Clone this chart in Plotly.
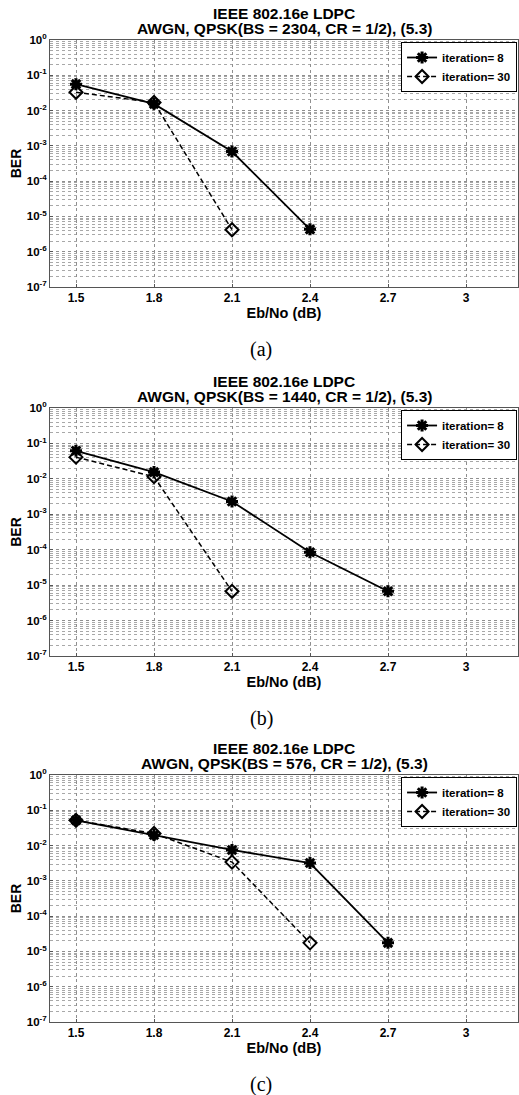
import plotly.graph_objects as go

# ---------------- data ----------------
x_ticks = [1.5, 1.8, 2.1, 2.4, 2.7, 3.0]
x_ticktext = ["1.5", "1.8", "2.1", "2.4", "2.7", "3"]
y_tickvals = [1e0, 1e-1, 1e-2, 1e-3, 1e-4, 1e-5, 1e-6, 1e-7]
y_ticktext = ["10<sup>0</sup>", "10<sup>-1</sup>", "10<sup>-2</sup>", "10<sup>-3</sup>",
              "10<sup>-4</sup>", "10<sup>-5</sup>", "10<sup>-6</sup>", "10<sup>-7</sup>"]

title_line1 = ["IEEE 802.16e LDPC", "IEEE 802.16e LDPC", "IEEE 802.16e LDPC"]
title_line2 = ["AWGN, QPSK(BS = 2304, CR = 1/2), (5.3)",
               "AWGN, QPSK(BS = 1440, CR = 1/2), (5.3)",
               "AWGN, QPSK(BS = 576, CR = 1/2), (5.3)"]
captions = ["(a)", "(b)", "(c)"]
series_names = ["iteration= 8", "iteration= 30"]
x_title = "Eb/No (dB)"
y_title = "BER"

# panel (a) BS = 2304
a_x8 = [1.5, 1.8, 2.1, 2.4]
a_ber8 = [0.056, 0.0155, 6.9e-4, 4.3e-6]
a_x30 = [1.5, 1.8, 2.1]
a_ber30 = [0.033, 0.017, 4.2e-6]

# panel (b) BS = 1440
b_x8 = [1.5, 1.8, 2.1, 2.4, 2.7]
b_ber8 = [0.062, 0.0155, 2.3e-3, 8.5e-5, 6.7e-6]
b_x30 = [1.5, 1.8, 2.1]
b_ber30 = [0.041, 0.0115, 6.7e-6]

# panel (c) BS = 576
c_x8 = [1.5, 1.8, 2.1, 2.4, 2.7]
c_ber8 = [0.052, 0.020, 7.5e-3, 3.2e-3, 1.75e-5]
c_x30 = [1.5, 1.8, 2.1, 2.4]
c_ber30 = [0.052, 0.022, 3.4e-3, 1.75e-5]

panels = [(a_x8, a_ber8, a_x30, a_ber30),
          (b_x8, b_ber8, b_x30, b_ber30),
          (c_x8, c_ber8, c_x30, c_ber30)]

# ---------------- layout geometry (pixels) ----------------
W, H = 519, 1095
plot_tops = [40, 408, 775]
plot_bots = [287, 656, 1022]
LEFT = 50
RIGHT = 1
PW = W - LEFT - RIGHT

FONT = "Liberation Sans, Arial, Helvetica, sans-serif"
SERIF = "Liberation Serif, Times New Roman, serif"


def b(t):
    return "<b>" + t + "</b>"


fig = go.Figure()
layout = dict(
    width=W, height=H,
    margin=dict(l=LEFT, r=RIGHT, t=0, b=0, autoexpand=False),
    paper_bgcolor="white", plot_bgcolor="white",
    font=dict(family=FONT, size=11, color="black"),
    showlegend=True,
)
annotations = []

for i, (x8, b8, x30, b30) in enumerate(panels):
    k = "" if i == 0 else str(i + 1)
    top, bot = plot_tops[i], plot_bots[i]
    d0 = 1 - bot / H
    d1 = 1 - top / H
    leg = "legend" + k
    fig.add_trace(go.Scatter(
        x=x8, y=b8, mode="lines+markers", name=b(series_names[0]),
        xaxis="x" + k, yaxis="y" + k, legend=leg,
        line=dict(color="black", width=1.8),
        marker=dict(symbol="asterisk-open", size=10, color="black",
                    line=dict(color="black", width=3)),
    ))
    fig.add_trace(go.Scatter(
        x=x30, y=b30, mode="lines+markers", name=b(series_names[1]),
        xaxis="x" + k, yaxis="y" + k, legend=leg,
        line=dict(color="black", width=1.5, dash="5px,3px"),
        marker=dict(symbol="diamond-open", size=10, color="black",
                    line=dict(color="black", width=2)),
    ))
    layout["xaxis" + k] = dict(
        domain=[0, 1], anchor="y" + k, range=[1.4, 3.2], automargin=False,
        tickvals=x_ticks, ticktext=[b(t) for t in x_ticktext],
        showgrid=True, gridcolor="#8f8f8f", griddash="dot", gridwidth=1,
        zeroline=False, showline=True, linecolor="#555", linewidth=1, mirror=True,
        ticks="inside", ticklen=3, tickcolor="#555",
        tickfont=dict(size=12, family=FONT, color="black"),
        title=dict(text=b(x_title), font=dict(size=14.5, family=FONT), standoff=0),
    )
    layout["yaxis" + k] = dict(
        domain=[d0, d1], anchor="x" + k, type="log", range=[-7, 0], automargin=False,
        tickvals=y_tickvals, ticktext=[b(t) for t in y_ticktext],
        showgrid=True, gridcolor="#8f8f8f", griddash="dot", gridwidth=1,
        minor=dict(dtick="D1", showgrid=True, gridcolor="#a8a8a8", griddash="dot",
                   gridwidth=1, ticks=""),
        zeroline=False, showline=True, linecolor="#555", linewidth=1, mirror=True,
        ticks="inside", ticklen=3, tickcolor="#555",
        tickfont=dict(size=11.5, family=FONT, color="black"),
        title=dict(text=b(y_title), font=dict(size=14, family=FONT), standoff=1),
    )
    layout[leg] = dict(
        x=0.998, xanchor="right", y=d1 - 2 / H, yanchor="top",
        bgcolor="white", bordercolor="black", borderwidth=1,
        font=dict(size=11.5, family=FONT, color="black"),
        itemwidth=30, tracegroupgap=0,
    )
    annotations.append(dict(
        text=b(title_line1[i]), xref="paper", yref="paper", x=0.5, y=1 - (top - 26.5) / H,
        xanchor="center", yanchor="middle", showarrow=False,
        font=dict(size=15.5, family=FONT, color="black"),
    ))
    annotations.append(dict(
        text=b(title_line2[i]), xref="paper", yref="paper", x=0.5, y=1 - (top - 11.5) / H,
        xanchor="center", yanchor="middle", showarrow=False,
        font=dict(size=15.5, family=FONT, color="black"),
    ))
    annotations.append(dict(
        text=captions[i], xref="paper", yref="paper", x=(261 - LEFT) / PW,
        y=1 - (bot + 62) / H, xanchor="center", yanchor="middle", showarrow=False,
        font=dict(size=20, family=SERIF, color="black"),
    ))

layout["annotations"] = annotations
fig.update_layout(**layout)
# remove the browser's default 8px body margin so the 519x1095 figure fills the window
fig.write_html("out.html",
               config={"displayModeBar": False},
               post_script="document.body.style.margin='0px';document.body.style.overflow='hidden';")
